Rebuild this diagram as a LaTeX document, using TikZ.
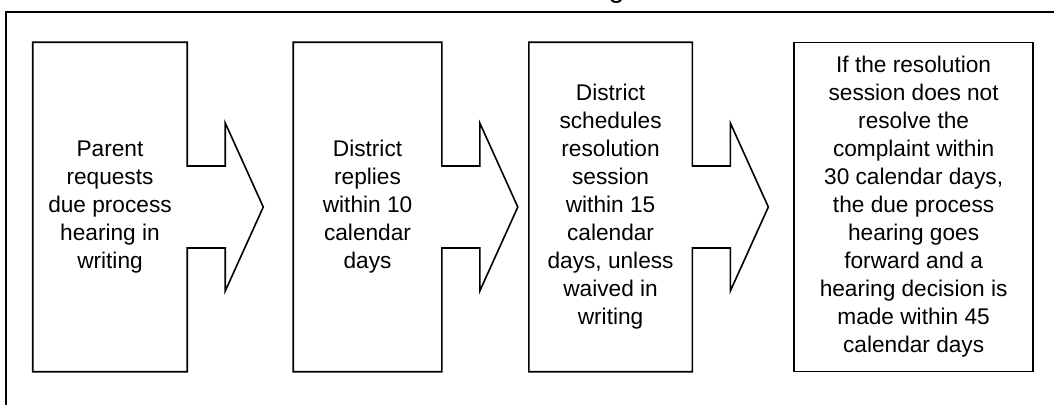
\documentclass[tikz,border=0pt]{standalone}
\usepackage{fontspec}
\setmainfont{Liberation Sans}
\usetikzlibrary{positioning,calc}

\begin{document}
\begin{tikzpicture}[x=0.75pt,y=-0.75pt,
        stepbox/.style={minimum height=246.75pt, inner sep=0pt, align=center,
            font=\fontsize{17}{21}\selectfont},
        outline/.style={line width=1.2pt, line join=miter}]
    \useasboundingbox (0,0) rectangle (1054,404);
    \draw[outline] (6,12) rectangle (1070,420);
    \node[anchor=base, font=\fontsize{21.5}{26}\selectfont] (title) at (546,-2.5) {Due Process Hearing Timeline};

    \node[stepbox, minimum width=115.5pt] (parent) at (110,207) {Parent\\requests\\due process\\hearing in\\writing};
    \node[stepbox, minimum width=111pt, right=79.5pt of parent] (reply) {District\\replies\\within 10\\calendar\\days};
    \node[stepbox, minimum width=122.25pt, right=65.25pt of reply] (session) {District\\schedules\\resolution\\session\\within 15\\calendar\\days, unless\\waived in\\writing};
    \node[stepbox, draw, outline, minimum width=179.25pt, right=75.75pt of session] (hearing) {If the resolution\\session does not\\resolve the\\complaint within\\30 calendar days,\\the due process\\hearing goes\\forward and a\\hearing decision is\\made within 45\\calendar days};

    % box with arrow on its right side
    \foreach \n in {parent,reply,session}
        \draw[outline] (\n.north east) -- ($(\n.east)+(0,-41)$) -- ++(38,0) -- ++(0,-43)
            -- ($(\n.east)+(76,0)$) -- ($(\n.east)+(38,84)$) -- ++(0,-43) -- ($(\n.east)+(0,41)$)
            -- (\n.south east) -- (\n.south west) -- (\n.north west) -- cycle;
\end{tikzpicture}
\end{document}
